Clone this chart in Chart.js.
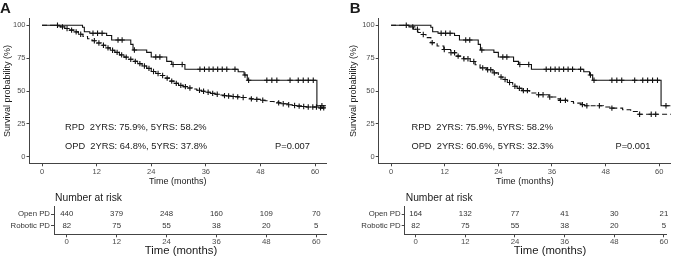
<!DOCTYPE html>
<html>
<head>
<meta charset="utf-8">
<script src="https://cdn.jsdelivr.net/npm/chart.js@4/dist/chart.umd.min.js"></script>
<style>
  body { margin: 0; background: #fff; }
  #wrap { position: relative; width: 676px; height: 258px; overflow: hidden; }
  canvas { position: absolute; }
</style>
</head>
<body>
<div id="wrap">
  <canvas id="kmA" width="338" height="190" style="left:0;top:0"></canvas>
  <canvas id="kmB" width="338" height="190" style="left:338px;top:0"></canvas>
  <canvas id="riskA" width="338" height="70" style="left:0;top:188px"></canvas>
  <canvas id="riskB" width="338" height="70" style="left:338px;top:188px"></canvas>
</div>
<script>
// ---- data ----
const timeTicks = [0, 12, 24, 36, 48, 60];
const survTicks = [0, 25, 50, 75, 100];

// robotic PD (same group in both panels)
const rpdTimes = [0, 8.9, 9.3, 10.5, 14.2, 15.3, 19.5, 20, 23, 24, 27.4, 28.5, 31.4, 43.1, 44.4, 45.1, 60.4, 62.5];
const rpdSurv  = [100, 98.5, 95.1, 93.9, 92.2, 88.8, 85.5, 81.2, 79.4, 75.9, 72.5, 70.2, 66.5, 64.6, 62.2, 58.2, 38.8, 38.8];
const rpdCensor = [3.4, 11.2, 12.2, 13.2, 16.7, 17.6, 20.3, 25, 25.9, 28.8, 30.8, 34.7, 35.7, 36.7, 37.6, 38.6, 39.6, 40.6, 42.4,
  44.6, 45.4, 49.4, 50.5, 51.6, 54.5, 56.3, 57.4, 58.5, 59.6, 61.5];

// open PD, panel A (all patients)
const opdATimes = [0, 3, 4, 5, 6, 7, 8, 9, 10, 11, 12, 13, 14, 15, 16, 17, 18, 19, 20, 21, 22, 23, 24, 25, 26, 27, 28, 29, 30,
  31, 32, 33, 34, 35, 36, 37, 38, 39, 40, 41, 42, 43, 44, 45, 46, 47, 48, 49, 50, 51, 52, 53, 54, 55, 56, 57, 58, 61, 62.5];
const opdASurv = [100, 99.5, 98.8, 97.5, 96.3, 95, 93.2, 91.5, 89.7, 88.2, 86.5, 84.8, 82.8, 81, 79.4, 77.5, 75.8, 74.2, 72.5,
  70.8, 69, 67.2, 64.8, 63.3, 61.8, 59.8, 57.5, 55.8, 54.3, 53.3, 52.3, 51.5, 50.6, 49.8, 49, 48.2, 47.5, 47, 46.5, 46.2, 45.8,
  45.5, 45, 44.5, 44, 43.6, 43, 42.6, 42, 41.5, 41, 40.3, 39.5, 39, 38.5, 38.2, 37.8, 37.2, 37.2];
const opdACensor = [4.5, 5.5, 6.5, 7.5, 8.5, 11.5, 12.5, 13.5, 14.5, 15.5, 16.5, 17.5, 18.5, 19.5, 20.5, 21.5, 22.5, 23.5, 24.5,
  25.5, 26.5, 27.5, 28.5, 29.5, 30.5, 31.5, 32.5, 34.6, 35.5, 36.5, 37.5, 38.5, 40.1, 41, 42, 43, 44.2, 46, 47.2, 48.5, 52,
  53, 54.2, 55.5, 56.5, 57.5, 58.5, 59.5, 60.3, 61.2, 61.9];

// open PD, panel B (matched)
const opdBTimes = [0, 4, 5, 6, 7, 7.8, 8.9, 10.3, 11.8, 13.3, 14.7, 16.2, 17.7, 18.8, 19.9, 21.4, 22.8, 24, 25, 26, 27.2, 28.2,
  29.3, 31, 32.7, 35.3, 37, 37.8, 39.5, 40.8, 42.5, 43.3, 47.5, 49.2, 51.8, 53.6, 55.4, 62.6];
const opdBSurv = [100, 98.8, 97, 94.5, 93, 90.6, 86.8, 84.2, 81.6, 79.1, 76.5, 74.5, 72.4, 70, 67.6, 66.2, 63.8, 60.6, 58.7, 56.5,
  53.6, 52, 50.3, 48.5, 47.2, 45.4, 44, 42.9, 42, 40.8, 39.6, 38.8, 37.8, 37, 35.7, 34.4, 32.3, 32.3];
const opdBCensor = [4.85, 5.9, 7.2, 9.2, 11.9, 13.4, 14.2, 15, 16.3, 17.2, 18.5, 20.5, 21.6, 22.3, 23.1, 24.6, 25.5, 26.5, 27.7,
  28.7, 29.6, 30.5, 33, 34, 35.5, 37.9, 39, 42.8, 43.8, 46.6, 49.4, 55.6, 58.2, 59.2];

// number at risk
const riskTimes = [0, 12, 24, 36, 48, 60];
const riskOpenA = [440, 379, 248, 160, 109, 70];
const riskOpenB = [164, 132, 77, 41, 30, 21];
const riskRobotic = [82, 75, 55, 38, 20, 5];
const riskRows = ['Robotic PD', 'Open PD'];

const FONT = '"Liberation Sans", Arial, Helvetica, sans-serif';
const AXIS = '#444';
const TICKTXT = '#4d4d4d';
const LINE = '#111';

function survAt(times, surv, t) {
  let v = surv[0];
  for (let i = 0; i < times.length; i++) { if (times[i] <= t) v = surv[i]; }
  return v;
}

const textPlugin = {
  id: 'kmText',
  afterDraw(chart, args, opts) {
    const {ctx, scales: {x, y}} = chart;
    ctx.save();
    ctx.fillStyle = '#1a1a1a';
    ctx.textBaseline = 'middle';
    ctx.textAlign = 'left';
    ctx.font = '9.3px ' + FONT;
    (opts.items || []).forEach(it => {
      ctx.fillText(it.text, x.getPixelForValue(it.t), y.getPixelForValue(it.s));
    });
    if (opts.letter) {
      ctx.font = 'bold 15px ' + FONT;
      ctx.textBaseline = 'alphabetic';
      ctx.fillText(opts.letter, opts.letterX, 13);
    }
    ctx.restore();
  }
};

function makeKm(id, opdT, opdS, opdC, items, letter, geo) {
  const pts = (T, S) => T.map((t, i) => ({x: t, y: S[i]}));
  const cens = (T, S, C) => C.map(t => ({x: t, y: survAt(T, S, t)}));
  new Chart(document.getElementById(id), {
    type: 'line',
    data: {
      datasets: [
        { data: pts(opdT, opdS), stepped: 'before', borderColor: LINE, borderWidth: 1.1, borderDash: [5, 3], pointRadius: 0, fill: false },
        { data: pts(rpdTimes, rpdSurv), stepped: 'before', borderColor: LINE, borderWidth: 1.1, pointRadius: 0, fill: false },
        { data: cens(opdT, opdS, opdC), showLine: false, pointStyle: 'cross', pointRadius: 2.7, pointBorderWidth: 1.1, pointBorderColor: LINE },
        { data: cens(rpdTimes, rpdSurv, rpdCensor), showLine: false, pointStyle: 'cross', pointRadius: 2.7, pointBorderWidth: 1.1, pointBorderColor: LINE }
      ]
    },
    options: {
      responsive: false,
      animation: false,
      layout: { padding: { left: geo.padLeft, right: geo.padRight, top: 18.7, bottom: 0 } },
      plugins: {
        legend: { display: false },
        tooltip: { enabled: false },
        kmText: { items: items, letter: letter, letterX: geo.letterX }
      },
      scales: {
        x: {
          type: 'linear', min: geo.xMin, max: geo.xMax,
          afterBuildTicks: s => { s.ticks = timeTicks.map(v => ({value: v})); },
          afterFit: s => { s.height = 26.7; },
          grid: { display: true, drawOnChartArea: false, drawTicks: true, tickLength: 3, tickColor: AXIS },
          border: { display: true, color: AXIS, width: 1 },
          ticks: { color: TICKTXT, font: { size: 7.5, family: FONT }, padding: 1, maxRotation: 0 },
          title: { display: true, text: 'Time (months)', color: '#1a1a1a', font: { size: 9, family: FONT }, padding: { top: 0, bottom: 3 } }
        },
        y: {
          type: 'linear', min: -5, max: 105,
          afterBuildTicks: s => { s.ticks = survTicks.map(v => ({value: v})); },
          afterFit: s => { s.width = geo.yWidth; },
          grid: { display: true, drawOnChartArea: false, drawTicks: true, tickLength: 3, tickColor: AXIS },
          border: { display: true, color: AXIS, width: 1 },
          ticks: { color: TICKTXT, font: { size: 7.5, family: FONT }, padding: 1 },
          title: { display: true, text: 'Survival probability (%)', color: '#1a1a1a', font: { size: 9, family: FONT }, padding: { top: 2, bottom: 0 } }
        }
      }
    },
    plugins: [textPlugin]
  });
}

const riskPlugin = {
  id: 'riskText',
  afterDraw(chart, args, opts) {
    const {ctx, chartArea, scales: {x, y}} = chart;
    ctx.save();
    ctx.fillStyle = '#333';
    ctx.textBaseline = 'middle';
    ctx.textAlign = 'center';
    ctx.font = '7.8px ' + FONT;
    riskTimes.forEach((t, i) => {
      ctx.fillText(String(opts.open[i]), x.getPixelForValue(t), y.getPixelForValue(2));
      ctx.fillText(String(riskRobotic[i]), x.getPixelForValue(t), y.getPixelForValue(1));
    });
    ctx.fillStyle = '#1a1a1a';
    ctx.textAlign = 'left';
    ctx.font = '10.3px ' + FONT;
    ctx.fillText('Number at risk', chartArea.left + 1, 9.7);
    ctx.textAlign = 'center';
    ctx.font = '11.3px ' + FONT;
    ctx.fillText('Time (months)', opts.titleX, 63);
    ctx.restore();
  }
};

function makeRisk(id, openVals, geo) {
  new Chart(document.getElementById(id), {
    type: 'scatter',
    data: { datasets: [{ data: riskTimes.map(t => ({x: t, y: 1.5})), pointRadius: 0 }] },
    options: {
      responsive: false,
      animation: false,
      layout: { padding: { left: 0, right: geo.padRight, top: 18.7, bottom: 0 } },
      plugins: {
        legend: { display: false },
        tooltip: { enabled: false },
        riskText: { open: openVals, titleX: geo.titleX }
      },
      scales: {
        x: {
          type: 'linear', min: geo.xMin, max: geo.xMax,
          afterBuildTicks: s => { s.ticks = timeTicks.map(v => ({value: v})); },
          afterFit: s => { s.height = 23.7; },
          grid: { display: true, drawOnChartArea: false, drawTicks: true, tickLength: 3, tickColor: AXIS },
          border: { display: true, color: AXIS, width: 1 },
          ticks: { color: TICKTXT, font: { size: 7.8, family: FONT }, padding: 0, maxRotation: 0 }
        },
        y: {
          type: 'linear', min: 0.25, max: 2.65,
          afterBuildTicks: s => { s.ticks = [{value: 1}, {value: 2}]; },
          afterFit: s => { s.width = geo.yWidth; },
          grid: { display: true, drawOnChartArea: false, drawTicks: true, tickLength: 3, tickColor: AXIS },
          border: { display: true, color: AXIS, width: 1 },
          ticks: { color: '#333', font: { size: 7.8, family: FONT }, padding: 1, callback: v => riskRows[v - 1] }
        }
      }
    },
    plugins: [riskPlugin]
  });
}

makeKm('kmA', opdATimes, opdASurv, opdACensor, [
  { text: 'RPD  2YRS: 75.9%, 5YRS: 58.2%', t: 5.05, s: 22.6 },
  { text: 'OPD  2YRS: 64.8%, 5YRS: 37.8%', t: 5.05, s: 8.2 },
  { text: 'P=0.007', t: 51.2, s: 8.2 }
], 'A', { padLeft: 0, yWidth: 29.5, padRight: 12, xMin: -2.75, xMax: 62.4, letterX: 0 });

makeKm('kmB', opdBTimes, opdBSurv, opdBCensor, [
  { text: 'RPD  2YRS: 75.9%, 5YRS: 58.2%', t: 4.55, s: 22.6 },
  { text: 'OPD  2YRS: 60.6%, 5YRS: 32.3%', t: 4.55, s: 8.2 },
  { text: 'P=0.001', t: 50.2, s: 8.2 }
], 'B', { padLeft: 8, yWidth: 32.7, padRight: 0, xMin: -2.77, xMax: 62.6, letterX: 11.7 });

makeRisk('riskA', riskOpenA, { yWidth: 54, padRight: 12, xMin: -3.06, xMax: 62.35, titleX: 181 });
makeRisk('riskB', riskOpenB, { yWidth: 66.7, padRight: 10, xMin: -2.66, xMax: 60.5, titleX: 212 });
</script>
</body>
</html>
